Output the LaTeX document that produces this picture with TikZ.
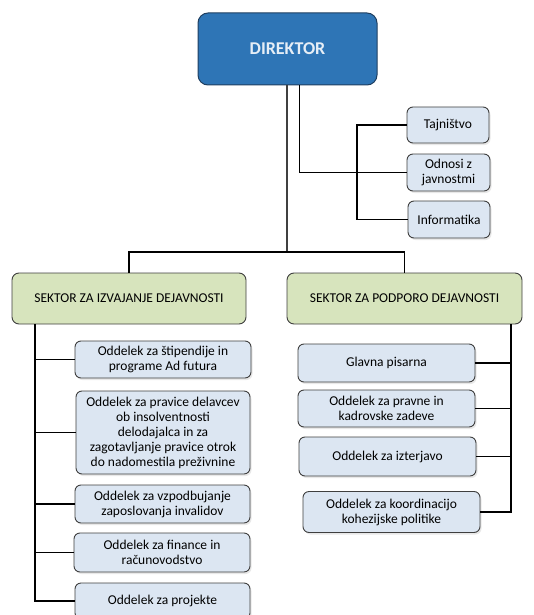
\documentclass[tikz,border=0pt]{standalone}
\usepackage{fontspec}
\setmainfont{Carlito}
\usetikzlibrary{shadows}
\definecolor{dirblue}{HTML}{2E75B6}
\definecolor{dirline}{HTML}{1F3F60}
\definecolor{sektgreen}{HTML}{D7E4BD}
\definecolor{oddblue}{HTML}{DCE6F2}
\definecolor{boxline}{HTML}{3F3F3F}
\begin{document}
\begin{tikzpicture}[x=1pt,y=-1pt,
    dirbox/.style={draw=dirline, fill=dirblue, line width=1pt, rounded corners=10pt,
        minimum width=179pt, minimum height=72pt, text=white!88!dirblue,
        font=\fontsize{18}{20}\selectfont\bfseries},
    sektbox/.style={draw=boxline, fill=sektgreen, line width=0.9pt, rounded corners=7pt,
        minimum height=51pt, font=\fontsize{13.5}{15}\selectfont},
    oddbox/.style={draw=boxline, fill=oddblue, line width=0.9pt, rounded corners=6pt,
        align=center, inner sep=1pt, font=\fontsize{13.5}{15}\selectfont,
        drop shadow={opacity=0.18, shadow xshift=1.5pt, shadow yshift=-2pt}},
    veza/.style={draw=black, line width=1.6pt}]
\useasboundingbox (0,0) rectangle (533,615);
\clip (0,0) rectangle (533,615);
\node[dirbox] (dir) at (287.5,49) {DIREKTOR};
\node[oddbox, minimum width=82pt, minimum height=36pt] (taj) at (448,125) {Tajništvo};
\node[oddbox, minimum width=83pt, minimum height=37pt] (odn) at (448.5,172.5) {Odnosi z\\javnostmi};
\node[oddbox, minimum width=82pt, minimum height=37pt] (inf) at (449,219.5) {Informatika};
\node[sektbox, minimum width=234pt] (sekL) at (129,298.5) {SEKTOR ZA IZVAJANJE DEJAVNOSTI};
\node[sektbox, minimum width=235pt] (sekR) at (404.5,298.5) {SEKTOR ZA PODPORO DEJAVNOSTI};
\node[oddbox, minimum width=176pt, minimum height=37pt] (L1) at (163,359.5) {Oddelek za štipendije in\\programe Ad futura};
\node[oddbox, minimum width=174pt, minimum height=83pt] (L2) at (163,432.5) {Oddelek za pravice delavcev\\ob insolventnosti\\delodajalca in za\\zagotavljanje pravice otrok\\do nadomestila preživnine};
\node[oddbox, minimum width=175pt, minimum height=38pt] (L3) at (162.5,504) {Oddelek za vzpodbujanje\\zaposlovanja invalidov};
\node[oddbox, minimum width=176pt, minimum height=39pt] (L4) at (162,552.5) {Oddelek za finance in\\računovodstvo};
\node[oddbox, minimum width=175pt, minimum height=36pt] (L5) at (162.5,601) {Oddelek za projekte};
\node[oddbox, minimum width=177pt, minimum height=38pt] (R1) at (386.5,363) {Glavna pisarna};
\node[oddbox, minimum width=177pt, minimum height=37pt] (R2) at (386.5,408.5) {Oddelek za pravne in\\kadrovske zadeve};
\node[oddbox, minimum width=177pt, minimum height=39pt] (R3) at (387.5,456.5) {Oddelek za izterjavo};
\node[oddbox, minimum width=177pt, minimum height=41pt] (R4) at (391.5,512) {Oddelek za koordinacijo\\kohezijske politike};
\coordinate (hub) at (287,252);
\coordinate (adm) at (357,172);
\coordinate (lbus) at (35,0);
\coordinate (rbus) at (511,0);
\draw[veza, draw=black!75] (dir.south -| hub) -- (hub);
\draw[veza] (sekL.north) |- (hub) -| (sekR.north);
\draw[veza] ([xshift=12pt]dir.south) |- (odn.west);
\draw[veza] (taj.west) -| (adm) |- (inf.west);
\draw[veza] (lbus |- sekL.south) |- (L5.west);
\foreach \n in {L1,L2,L3,L4}
    \draw[veza] (lbus |- \n.west) -- (\n.west);
\draw[veza] (rbus |- sekR.south) |- (R4.east);
\foreach \n in {R1,R2,R3}
    \draw[veza] (rbus |- \n.east) -- (\n.east);
\end{tikzpicture}
\end{document}
